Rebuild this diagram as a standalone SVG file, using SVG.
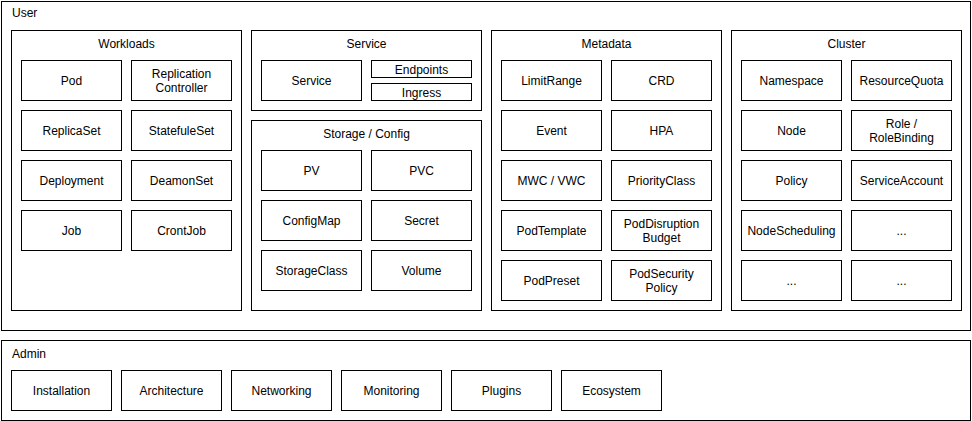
<svg xmlns="http://www.w3.org/2000/svg" width="972" height="421" viewBox="0 0 972 421">
<style>
rect{fill:#fff;stroke:#000;stroke-width:1}
text{font-family:"Liberation Sans",Arial,Helvetica,sans-serif;font-size:12px;fill:#000}
.c{text-anchor:middle}
</style>
<rect x="0" y="0" width="972" height="421" style="stroke:none"/>
<g id="user">
<rect x="1.5" y="1.5" width="969" height="329"/>
<text x="12" y="17">User</text>
</g>
<g id="admin">
<rect x="1.5" y="340.5" width="969" height="80"/>
<text x="12" y="358">Admin</text>
</g>
<g id="workloads">
<rect x="11.5" y="30.5" width="230" height="280"/>
<text class="c" x="126.5" y="48">Workloads</text>
</g>
<g id="service-group">
<rect x="251.5" y="30.5" width="230" height="80"/>
<text class="c" x="366.5" y="48">Service</text>
</g>
<g id="storage-config">
<rect x="251.5" y="120.5" width="230" height="190"/>
<text class="c" x="366.5" y="138">Storage / Config</text>
</g>
<g id="metadata">
<rect x="491.5" y="30.5" width="230" height="280"/>
<text class="c" x="606.5" y="48">Metadata</text>
</g>
<g id="cluster">
<rect x="731.5" y="30.5" width="230" height="280"/>
<text class="c" x="846.5" y="48">Cluster</text>
</g>
<g id="pod"><rect x="21.5" y="60.5" width="100" height="40"/><text class="c" x="71.5" y="85">Pod</text></g>
<g id="replication-controller"><rect x="131.5" y="60.5" width="100" height="40"/><text class="c" x="181.5" y="78">Replication</text><text class="c" x="181.5" y="92">Controller</text></g>
<g id="replicaset"><rect x="21.5" y="110.5" width="100" height="40"/><text class="c" x="71.5" y="135">ReplicaSet</text></g>
<g id="statefulset"><rect x="131.5" y="110.5" width="100" height="40"/><text class="c" x="181.5" y="135">StatefuleSet</text></g>
<g id="deployment"><rect x="21.5" y="160.5" width="100" height="40"/><text class="c" x="71.5" y="185">Deployment</text></g>
<g id="daemonset"><rect x="131.5" y="160.5" width="100" height="40"/><text class="c" x="181.5" y="185">DeamonSet</text></g>
<g id="job"><rect x="21.5" y="210.5" width="100" height="40"/><text class="c" x="71.5" y="235">Job</text></g>
<g id="cronjob"><rect x="131.5" y="210.5" width="100" height="40"/><text class="c" x="181.5" y="235">CrontJob</text></g>
<g id="service"><rect x="261.5" y="60.5" width="100" height="40"/><text class="c" x="311.5" y="85">Service</text></g>
<g id="endpoints"><rect x="371.5" y="60.5" width="100" height="17"/><text class="c" x="421.5" y="74">Endpoints</text></g>
<g id="ingress"><rect x="371.5" y="83.5" width="100" height="17"/><text class="c" x="421.5" y="97">Ingress</text></g>
<g id="pv"><rect x="261.5" y="150.5" width="100" height="40"/><text class="c" x="311.5" y="175">PV</text></g>
<g id="pvc"><rect x="371.5" y="150.5" width="100" height="40"/><text class="c" x="421.5" y="175">PVC</text></g>
<g id="configmap"><rect x="261.5" y="200.5" width="100" height="40"/><text class="c" x="311.5" y="225">ConfigMap</text></g>
<g id="secret"><rect x="371.5" y="200.5" width="100" height="40"/><text class="c" x="421.5" y="225">Secret</text></g>
<g id="storageclass"><rect x="261.5" y="250.5" width="100" height="40"/><text class="c" x="311.5" y="275">StorageClass</text></g>
<g id="volume"><rect x="371.5" y="250.5" width="100" height="40"/><text class="c" x="421.5" y="275">Volume</text></g>
<g id="limitrange"><rect x="501.5" y="60.5" width="100" height="40"/><text class="c" x="551.5" y="85">LimitRange</text></g>
<g id="crd"><rect x="611.5" y="60.5" width="100" height="40"/><text class="c" x="661.5" y="85">CRD</text></g>
<g id="event"><rect x="501.5" y="110.5" width="100" height="40"/><text class="c" x="551.5" y="135">Event</text></g>
<g id="hpa"><rect x="611.5" y="110.5" width="100" height="40"/><text class="c" x="661.5" y="135">HPA</text></g>
<g id="mwc-vwc"><rect x="501.5" y="160.5" width="100" height="40"/><text class="c" x="551.5" y="185">MWC / VWC</text></g>
<g id="priorityclass"><rect x="611.5" y="160.5" width="100" height="40"/><text class="c" x="661.5" y="185">PriorityClass</text></g>
<g id="podtemplate"><rect x="501.5" y="210.5" width="100" height="40"/><text class="c" x="551.5" y="235">PodTemplate</text></g>
<g id="poddisruptionbudget"><rect x="611.5" y="210.5" width="100" height="40"/><text class="c" x="661.5" y="228">PodDisruption</text><text class="c" x="661.5" y="242">Budget</text></g>
<g id="podpreset"><rect x="501.5" y="260.5" width="100" height="40"/><text class="c" x="551.5" y="285">PodPreset</text></g>
<g id="podsecuritypolicy"><rect x="611.5" y="260.5" width="100" height="40"/><text class="c" x="661.5" y="278">PodSecurity</text><text class="c" x="661.5" y="292">Policy</text></g>
<g id="namespace"><rect x="741.5" y="60.5" width="100" height="40"/><text class="c" x="791.5" y="85">Namespace</text></g>
<g id="resourcequota"><rect x="851.5" y="60.5" width="100" height="40"/><text class="c" x="901.5" y="85">ResourceQuota</text></g>
<g id="node"><rect x="741.5" y="110.5" width="100" height="40"/><text class="c" x="791.5" y="135">Node</text></g>
<g id="role-rolebinding"><rect x="851.5" y="110.5" width="100" height="40"/><text class="c" x="901.5" y="128">Role /</text><text class="c" x="901.5" y="142">RoleBinding</text></g>
<g id="policy"><rect x="741.5" y="160.5" width="100" height="40"/><text class="c" x="791.5" y="185">Policy</text></g>
<g id="serviceaccount"><rect x="851.5" y="160.5" width="100" height="40"/><text class="c" x="901.5" y="185">ServiceAccount</text></g>
<g id="nodescheduling"><rect x="741.5" y="210.5" width="100" height="40"/><text class="c" x="791.5" y="235">NodeScheduling</text></g>
<g id="more-1"><rect x="851.5" y="210.5" width="100" height="40"/><text class="c" x="901.5" y="235">...</text></g>
<g id="more-2"><rect x="741.5" y="260.5" width="100" height="40"/><text class="c" x="791.5" y="285">...</text></g>
<g id="more-3"><rect x="851.5" y="260.5" width="100" height="40"/><text class="c" x="901.5" y="285">...</text></g>
<g id="installation"><rect x="11.5" y="370.5" width="100" height="40"/><text class="c" x="61.5" y="395">Installation</text></g>
<g id="architecture"><rect x="121.5" y="370.5" width="100" height="40"/><text class="c" x="171.5" y="395">Architecture</text></g>
<g id="networking"><rect x="231.5" y="370.5" width="100" height="40"/><text class="c" x="281.5" y="395">Networking</text></g>
<g id="monitoring"><rect x="341.5" y="370.5" width="100" height="40"/><text class="c" x="391.5" y="395">Monitoring</text></g>
<g id="plugins"><rect x="451.5" y="370.5" width="100" height="40"/><text class="c" x="501.5" y="395">Plugins</text></g>
<g id="ecosystem"><rect x="561.5" y="370.5" width="100" height="40"/><text class="c" x="611.5" y="395">Ecosystem</text></g>
<g id="connectors"></g>
</svg>
